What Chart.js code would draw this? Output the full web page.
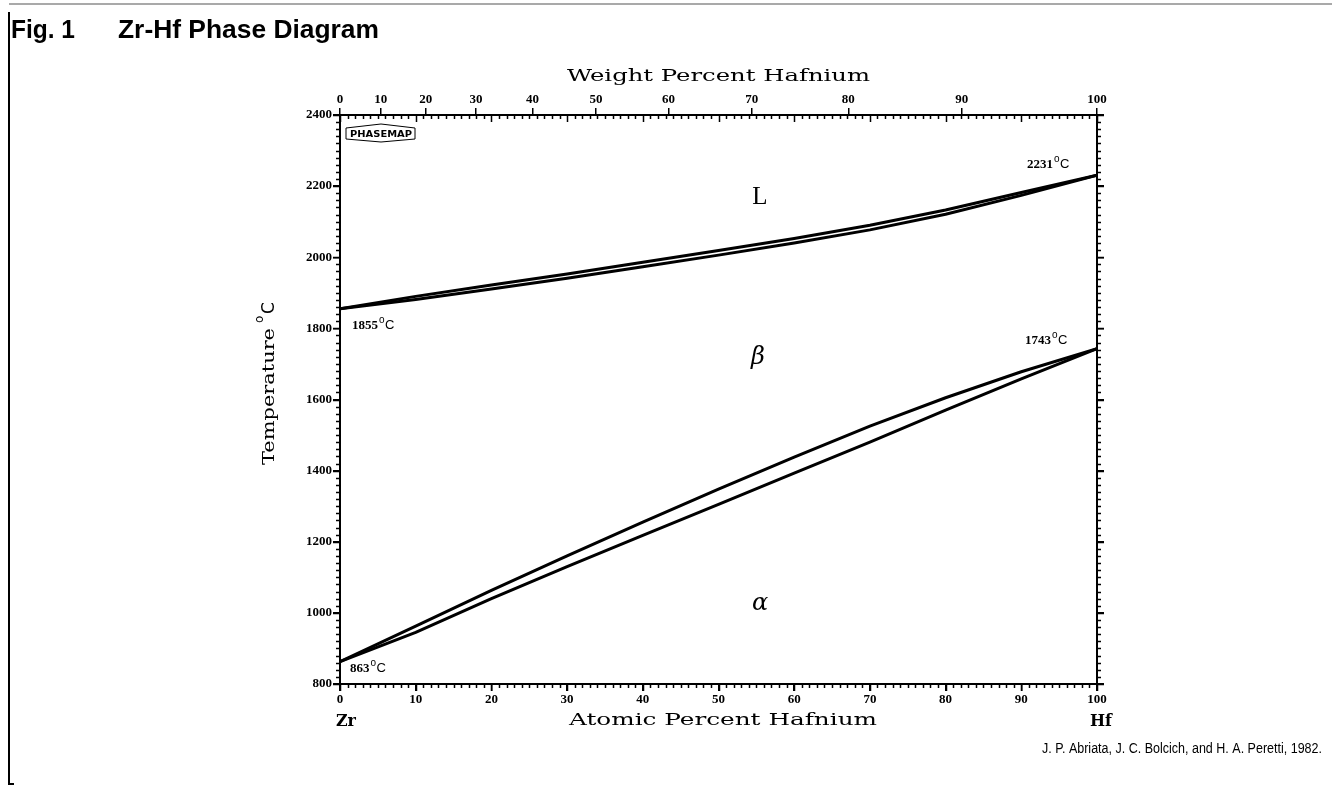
<!DOCTYPE html>
<html>
<head>
<meta charset="utf-8">
<script src="https://cdn.jsdelivr.net/npm/chart.js@4.4.1/dist/chart.umd.min.js"></script>
<style>
  html, body { margin: 0; padding: 0; background: #fff; }
  #wrap { width: 1332px; height: 786px; position: relative; }
</style>
</head>
<body>
<div id="wrap"><canvas id="phase-chart" width="1332" height="786"></canvas></div>
<script>
// composition, atomic percent Hf
var atPct = [0, 10, 20, 30, 40, 50, 60, 70, 80, 90, 100];
// temperatures, deg C
var liquidus     = [1855, 1890, 1922, 1953, 1986, 2019, 2053, 2090, 2133, 2182, 2231];
var solidus      = [1855, 1881, 1911, 1941, 1973, 2006, 2040, 2077, 2121, 2174, 2231];
var betaTransus  = [863, 963, 1063, 1160, 1255, 1348, 1438, 1525, 1605, 1678, 1743];
var alphaTransus = [863, 945, 1040, 1130, 1218, 1305, 1393, 1480, 1570, 1658, 1743];
// top axis tick labels, weight percent Hf
var wtTickLabels = [0, 10, 20, 30, 40, 50, 60, 70, 80, 90, 100];

var ZR_MASS = 91.224, HF_MASS = 178.49;
function wtToAt(w) {
    if (w <= 0) return 0;
    if (w >= 100) return 100;
    var a = w / HF_MASS, b = (100 - w) / ZR_MASS;
    return 100 * a / (a + b);
}

function pts(ys) {
    var out = [];
    for (var i = 0; i < atPct.length; i++) {
        out.push({ x: atPct[i], y: ys[i] });
    }
    return out;
}

var tickFont = { family: "'Liberation Serif', serif", size: 13, weight: 'bold' };

function lineSet(ys) {
    return {
        data: pts(ys),
        borderColor: '#000',
        borderWidth: 3,
        pointRadius: 0,
        fill: false,
        showLine: true,
        tension: 0,
        borderJoinStyle: 'round',
        xAxisID: 'x',
        yAxisID: 'y'
    };
}

// text squeezed/stretched to a given width
function fitText(ctx, txt, x, y, w) {
    var m = ctx.measureText(txt).width;
    ctx.save();
    ctx.translate(x, y);
    ctx.scale(w / m, 1);
    ctx.textAlign = 'left';
    ctx.fillText(txt, 0, 0);
    ctx.restore();
}

function degLabel(ctx, num, x, y) {
    ctx.font = "bold 13px 'Liberation Serif', serif";
    ctx.textAlign = 'left';
    ctx.textBaseline = 'alphabetic';
    ctx.fillText(num, x, y);
    var w = ctx.measureText(num).width;
    ctx.font = "10px 'Liberation Sans', sans-serif";
    ctx.fillText('o', x + w + 1, y - 6);
    ctx.font = "13px 'Liberation Sans', sans-serif";
    ctx.fillText('C', x + w + 7, y);
}

var decorPlugin = {
    id: 'decor',
    afterDraw: function (chart) {
        var ctx = chart.ctx;
        var xs = chart.scales.x, ys = chart.scales.y;
        var a = chart.chartArea;
        ctx.save();
        ctx.strokeStyle = '#000';
        ctx.fillStyle = '#000';
        ctx.lineWidth = 1.5;

        // minor ticks, every 1 at% and every 20 deg
        ctx.beginPath();
        for (var i = 0; i <= 100; i++) {
            var px = Math.round(xs.getPixelForValue(i)) + 0.5;
            var len = i % 10 == 0 ? 7 : 4;
            ctx.moveTo(px, a.bottom); ctx.lineTo(px, a.bottom + len);
            ctx.moveTo(px, a.top); ctx.lineTo(px, a.top + len);
        }
        for (var t = 800; t <= 2400; t += 20) {
            var py = Math.round(ys.getPixelForValue(t)) + 0.5;
            var l2 = t % 200 == 0 ? 7 : 4;
            ctx.moveTo(a.left - l2, py); ctx.lineTo(a.left, py);
            ctx.moveTo(a.right, py); ctx.lineTo(a.right + l2, py);
        }
        ctx.stroke();

        // page frame
        ctx.lineWidth = 2;
        ctx.beginPath();
        ctx.moveTo(9, 12); ctx.lineTo(9, 784); ctx.lineTo(14, 784);
        ctx.stroke();
        ctx.lineWidth = 1.2;
        ctx.strokeStyle = '#555';
        ctx.beginPath();
        ctx.moveTo(9, 4); ctx.lineTo(1332, 4);
        ctx.stroke();
        ctx.strokeStyle = '#000';

        // figure title
        ctx.textBaseline = 'alphabetic';
        ctx.font = "bold 25px 'Liberation Sans', Arial, sans-serif";
        fitText(ctx, 'Fig. 1', 11, 38, 64);
        fitText(ctx, 'Zr-Hf Phase Diagram', 118, 38, 261);

        // axis titles
        ctx.font = "17px 'DejaVu Serif', serif";
        fitText(ctx, 'Weight Percent Hafnium', 567, 81, 303);
        fitText(ctx, 'Atomic Percent Hafnium', 569, 725, 308);
        ctx.font = "bold 17px 'DejaVu Serif', serif";
        fitText(ctx, 'Zr', 336, 726, 20);
        fitText(ctx, 'Hf', 1090, 726, 22);

        ctx.save();
        ctx.translate(274, 465);
        ctx.rotate(-Math.PI / 2);
        ctx.font = "17px 'DejaVu Serif', serif";
        fitText(ctx, 'Temperature', 0, 0, 137);
        ctx.font = "12px 'DejaVu Sans', sans-serif";
        ctx.fillText('o', 142, -11);
        ctx.font = "17px 'DejaVu Sans', sans-serif";
        ctx.fillText('C', 151, 0);
        ctx.restore();

        // melting / transformation points
        degLabel(ctx, '2231', xs.getPixelForValue(100) - 70, ys.getPixelForValue(2231) - 7);
        degLabel(ctx, '1855', xs.getPixelForValue(0) + 12, ys.getPixelForValue(1855) + 20);
        degLabel(ctx, '1743', xs.getPixelForValue(100) - 72, ys.getPixelForValue(1743) - 5);
        degLabel(ctx, '863', xs.getPixelForValue(0) + 10, ys.getPixelForValue(863) + 10);

        // phase fields
        ctx.textAlign = 'center';
        ctx.textBaseline = 'middle';
        ctx.font = "25px 'Liberation Serif', serif";
        ctx.fillText('L', 760, 197);
        ctx.font = "italic 24px 'DejaVu Serif', serif";
        ctx.fillText('\u03b2', 758, 358);
        ctx.fillText('\u03b1', 760, 604);

        // PHASEMAP badge
        ctx.lineWidth = 1;
        ctx.beginPath();
        ctx.moveTo(346, 128); ctx.lineTo(381, 124); ctx.lineTo(415, 128);
        ctx.lineTo(415, 139); ctx.lineTo(381, 142); ctx.lineTo(346, 139);
        ctx.closePath();
        ctx.stroke();
        ctx.font = "bold 9px 'DejaVu Sans', sans-serif";
        ctx.textBaseline = 'alphabetic';
        ctx.textAlign = 'left';
        fitText(ctx, 'PHASEMAP', 350, 137, 62);

        // citation
        ctx.font = "14px 'Liberation Sans', Arial, sans-serif";
        fitText(ctx, 'J. P. Abriata, J. C. Bolcich, and H. A. Peretti, 1982.', 1042, 753, 280);
        ctx.restore();
    }
};

new Chart(document.getElementById('phase-chart'), {
    type: 'scatter',
    data: {
        datasets: [lineSet(liquidus), lineSet(solidus), lineSet(betaTransus), lineSet(alphaTransus)]
    },
    options: {
        responsive: false,
        animation: false,
        devicePixelRatio: 1,
        layout: { padding: 0 },
        plugins: { legend: { display: false }, tooltip: { enabled: false } },
        scales: {
            x: {
                type: 'linear', position: 'bottom', min: 0, max: 100,
                ticks: { stepSize: 10, font: tickFont, color: '#000', padding: 1, maxRotation: 0,
                         callback: function (v) { return String(v); } },
                grid: { drawOnChartArea: false, tickLength: 7, color: '#000', lineWidth: 1.5 },
                border: { display: true, color: '#000', width: 2 },
                afterFit: function (s) { s.height = 102; }
            },
            x2: {
                type: 'linear', position: 'top', min: 0, max: 100,
                afterBuildTicks: function (s) {
                    s.ticks = wtTickLabels.map(function (w) { return { value: wtToAt(w) }; });
                },
                ticks: {
                    font: tickFont, color: '#000', padding: 1, maxRotation: 0, autoSkip: false,
                    callback: function (v, i) { return String(wtTickLabels[i]); }
                },
                grid: { drawOnChartArea: false, tickLength: 7, color: '#000', lineWidth: 1.5 },
                border: { display: true, color: '#000', width: 2 },
                afterFit: function (s) { s.height = 115; }
            },
            y: {
                type: 'linear', position: 'left', min: 800, max: 2400,
                ticks: { stepSize: 200, font: tickFont, color: '#000', padding: 1,
                         callback: function (v) { return String(v); } },
                grid: { drawOnChartArea: false, tickLength: 7, color: '#000', lineWidth: 1.5 },
                border: { display: true, color: '#000', width: 2 },
                afterFit: function (s) { s.width = 340; }
            },
            y2: {
                type: 'linear', position: 'right', min: 800, max: 2400,
                ticks: { stepSize: 200, display: false },
                grid: { drawOnChartArea: false, tickLength: 7, color: '#000', lineWidth: 1.5 },
                border: { display: true, color: '#000', width: 2 },
                afterFit: function (s) { s.width = 235; }
            }
        }
    },
    plugins: [decorPlugin]
});
</script>
</body>
</html>
